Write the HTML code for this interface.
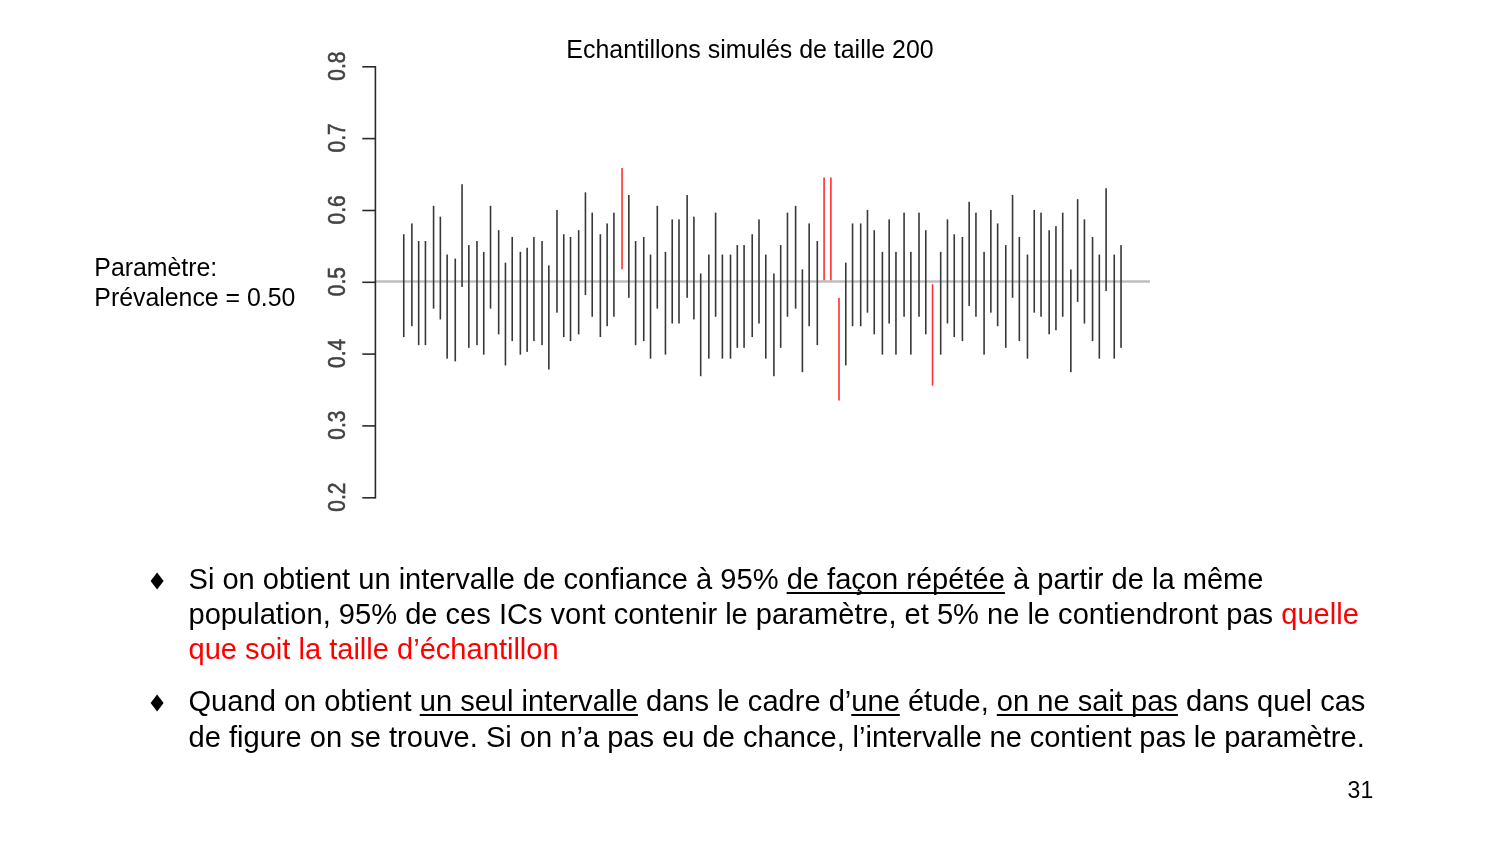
<!DOCTYPE html>
<html lang="fr">
<head>
<meta charset="utf-8">
<title>Echantillons simulés de taille 200</title>
<style>
html,body{margin:0;padding:0;background:#fff;}
body{width:1500px;height:844px;position:relative;overflow:hidden;font-family:"Liberation Sans",sans-serif;color:#000;}
.abs{position:absolute;white-space:nowrap;}
#title{left:566.3px;top:33.5px;font-size:24.94px;line-height:30px;}
#param{left:94.3px;top:251.9px;font-size:24.86px;line-height:30px;}
.bul{position:absolute;left:188.5px;font-size:29.08px;line-height:35px;white-space:nowrap;}
.bul u{text-decoration-thickness:2.2px;text-underline-offset:3px;text-decoration-skip-ink:none;}
.dia{position:absolute;left:150px;font-size:20px;}
.red{color:#f00;}
#pn{left:1347.6px;top:778px;font-size:23px;line-height:24px;}
svg{position:absolute;left:0;top:0;}
</style>
</head>
<body>
<svg width="1500" height="844" viewBox="0 0 1500 844">
<line x1="375.5" y1="281.5" x2="1150" y2="281.5" stroke="#bebebe" stroke-width="2.5"/>
<g fill="#383838">
<rect x="402.95" y="234.26" width="1.6" height="102.77"/>
<rect x="411.08" y="223.44" width="1.6" height="102.77"/>
<rect x="417.86" y="241.02" width="1.6" height="104.12"/>
<rect x="424.64" y="241.02" width="1.6" height="104.12"/>
<rect x="432.78" y="205.86" width="1.6" height="102.77"/>
<rect x="439.56" y="216.68" width="1.6" height="102.77"/>
<rect x="446.34" y="254.54" width="1.6" height="104.12"/>
<rect x="454.47" y="258.60" width="1.6" height="102.77"/>
<rect x="461.25" y="184.22" width="1.6" height="102.77"/>
<rect x="468.03" y="245.08" width="1.6" height="102.77"/>
<rect x="476.17" y="241.02" width="1.6" height="104.12"/>
<rect x="482.95" y="251.84" width="1.6" height="102.77"/>
<rect x="489.73" y="205.86" width="1.6" height="102.77"/>
<rect x="497.86" y="230.20" width="1.6" height="104.12"/>
<rect x="504.64" y="262.65" width="1.6" height="102.77"/>
<rect x="511.42" y="236.96" width="1.6" height="104.12"/>
<rect x="519.56" y="251.84" width="1.6" height="102.77"/>
<rect x="526.34" y="247.78" width="1.6" height="104.12"/>
<rect x="533.12" y="236.96" width="1.6" height="104.12"/>
<rect x="541.25" y="241.02" width="1.6" height="104.12"/>
<rect x="548.03" y="265.36" width="1.6" height="104.12"/>
<rect x="556.17" y="209.92" width="1.6" height="102.77"/>
<rect x="562.95" y="234.26" width="1.6" height="102.77"/>
<rect x="569.73" y="236.96" width="1.6" height="104.12"/>
<rect x="577.86" y="230.20" width="1.6" height="104.12"/>
<rect x="584.64" y="192.34" width="1.6" height="102.77"/>
<rect x="591.42" y="212.62" width="1.6" height="104.12"/>
<rect x="599.56" y="234.26" width="1.6" height="102.77"/>
<rect x="606.34" y="223.44" width="1.6" height="102.77"/>
<rect x="613.12" y="212.62" width="1.6" height="104.12"/>
<rect x="621.25" y="168.00" width="1.6" height="101.42" fill="#ff3030"/>
<rect x="628.03" y="195.04" width="1.6" height="102.77"/>
<rect x="634.81" y="241.02" width="1.6" height="104.12"/>
<rect x="642.95" y="236.96" width="1.6" height="104.12"/>
<rect x="649.73" y="254.54" width="1.6" height="104.12"/>
<rect x="656.50" y="205.86" width="1.6" height="102.77"/>
<rect x="664.64" y="251.84" width="1.6" height="102.77"/>
<rect x="671.42" y="219.38" width="1.6" height="104.12"/>
<rect x="678.20" y="219.38" width="1.6" height="104.12"/>
<rect x="686.33" y="195.04" width="1.6" height="102.77"/>
<rect x="693.11" y="216.68" width="1.6" height="102.77"/>
<rect x="699.89" y="273.47" width="1.6" height="102.77"/>
<rect x="708.03" y="254.54" width="1.6" height="104.12"/>
<rect x="714.81" y="212.62" width="1.6" height="104.12"/>
<rect x="721.59" y="254.54" width="1.6" height="104.12"/>
<rect x="729.72" y="254.54" width="1.6" height="104.12"/>
<rect x="736.50" y="245.08" width="1.6" height="102.77"/>
<rect x="743.28" y="245.08" width="1.6" height="102.77"/>
<rect x="751.42" y="234.26" width="1.6" height="102.77"/>
<rect x="758.20" y="219.38" width="1.6" height="104.12"/>
<rect x="764.98" y="254.54" width="1.6" height="104.12"/>
<rect x="773.11" y="273.47" width="1.6" height="102.77"/>
<rect x="779.89" y="245.08" width="1.6" height="102.77"/>
<rect x="786.67" y="212.62" width="1.6" height="104.12"/>
<rect x="794.81" y="205.86" width="1.6" height="102.77"/>
<rect x="801.59" y="269.42" width="1.6" height="102.77"/>
<rect x="808.37" y="223.44" width="1.6" height="102.77"/>
<rect x="816.50" y="241.02" width="1.6" height="104.12"/>
<rect x="823.28" y="177.46" width="1.6" height="102.77" fill="#ff3030"/>
<rect x="830.06" y="177.46" width="1.6" height="102.77" fill="#ff3030"/>
<rect x="838.20" y="297.81" width="1.6" height="102.77" fill="#ff3030"/>
<rect x="844.98" y="262.65" width="1.6" height="102.77"/>
<rect x="851.76" y="223.44" width="1.6" height="102.77"/>
<rect x="859.89" y="223.44" width="1.6" height="102.77"/>
<rect x="866.67" y="209.92" width="1.6" height="102.77"/>
<rect x="873.45" y="230.20" width="1.6" height="104.12"/>
<rect x="881.59" y="251.84" width="1.6" height="102.77"/>
<rect x="888.37" y="219.38" width="1.6" height="104.12"/>
<rect x="895.15" y="251.84" width="1.6" height="102.77"/>
<rect x="903.28" y="212.62" width="1.6" height="104.12"/>
<rect x="910.06" y="251.84" width="1.6" height="102.77"/>
<rect x="918.20" y="212.62" width="1.6" height="104.12"/>
<rect x="924.98" y="230.20" width="1.6" height="104.12"/>
<rect x="931.75" y="284.29" width="1.6" height="101.42" fill="#ff3030"/>
<rect x="939.89" y="251.84" width="1.6" height="102.77"/>
<rect x="946.67" y="219.38" width="1.6" height="104.12"/>
<rect x="953.45" y="234.26" width="1.6" height="102.77"/>
<rect x="961.59" y="236.96" width="1.6" height="104.12"/>
<rect x="968.36" y="201.80" width="1.6" height="104.12"/>
<rect x="975.14" y="212.62" width="1.6" height="104.12"/>
<rect x="983.28" y="251.84" width="1.6" height="102.77"/>
<rect x="990.06" y="209.92" width="1.6" height="102.77"/>
<rect x="996.84" y="223.44" width="1.6" height="102.77"/>
<rect x="1004.97" y="245.08" width="1.6" height="102.77"/>
<rect x="1011.75" y="195.04" width="1.6" height="102.77"/>
<rect x="1018.53" y="236.96" width="1.6" height="104.12"/>
<rect x="1026.67" y="254.54" width="1.6" height="104.12"/>
<rect x="1033.45" y="209.92" width="1.6" height="102.77"/>
<rect x="1040.23" y="212.62" width="1.6" height="104.12"/>
<rect x="1048.36" y="230.20" width="1.6" height="104.12"/>
<rect x="1055.14" y="226.14" width="1.6" height="104.12"/>
<rect x="1061.92" y="212.62" width="1.6" height="104.12"/>
<rect x="1070.06" y="269.42" width="1.6" height="102.77"/>
<rect x="1076.84" y="199.10" width="1.6" height="102.77"/>
<rect x="1083.62" y="219.38" width="1.6" height="104.12"/>
<rect x="1091.75" y="236.96" width="1.6" height="104.12"/>
<rect x="1098.53" y="254.54" width="1.6" height="104.12"/>
<rect x="1105.31" y="188.28" width="1.6" height="102.77"/>
<rect x="1113.45" y="254.54" width="1.6" height="104.12"/>
<rect x="1120.23" y="245.08" width="1.6" height="102.77"/>
</g>
<g stroke="#2a2a2a" stroke-width="1.6" fill="none">
<line x1="375.4" y1="66.0" x2="375.4" y2="498.6"/>
<line x1="362.3" y1="66.8" x2="375.4" y2="66.8"/><line x1="362.3" y1="138.6" x2="375.4" y2="138.6"/><line x1="362.3" y1="210.5" x2="375.4" y2="210.5"/><line x1="362.3" y1="282.3" x2="375.4" y2="282.3"/><line x1="362.3" y1="354.1" x2="375.4" y2="354.1"/><line x1="362.3" y1="425.9" x2="375.4" y2="425.9"/><line x1="362.3" y1="497.8" x2="375.4" y2="497.8"/>
</g>
<g font-family="Liberation Sans, sans-serif" font-size="21" fill="#424242" stroke="#424242" stroke-width="0.5">
<text transform="translate(345.3,66.1) rotate(-90) scale(1,1.12)" text-anchor="middle">0.8</text><text transform="translate(345.3,137.9) rotate(-90) scale(1,1.12)" text-anchor="middle">0.7</text><text transform="translate(345.3,209.8) rotate(-90) scale(1,1.12)" text-anchor="middle">0.6</text><text transform="translate(345.3,281.6) rotate(-90) scale(1,1.12)" text-anchor="middle">0.5</text><text transform="translate(345.3,353.4) rotate(-90) scale(1,1.12)" text-anchor="middle">0.4</text><text transform="translate(345.3,425.2) rotate(-90) scale(1,1.12)" text-anchor="middle">0.3</text><text transform="translate(345.3,497.1) rotate(-90) scale(1,1.12)" text-anchor="middle">0.2</text>
</g>
<polygon points="157.1,572.4 163.6,580.9 157.1,589.4 150.6,580.9" fill="#000"/>
<polygon points="157.1,694.4 163.6,702.9 157.1,711.4 150.6,702.9" fill="#000"/>
</svg>
<div id="title" class="abs">Echantillons simulés de taille 200</div>
<div id="param" class="abs">Paramètre:<br>Prévalence = 0.50</div>
<div class="bul" style="top:561.5px;"><span id="b1l1">Si on obtient un intervalle de confiance à 95% <u>de façon répétée</u> à partir de la même</span><br><span id="b1l2">population, 95% de ces ICs vont contenir le paramètre, et 5% ne le contiendront pas <span class="red">quelle</span></span><br><span id="b1l3" class="red">que soit la taille d’échantillon</span></div>
<div class="bul" style="top:683.5px;"><span id="b2l1">Quand on obtient <u>un seul intervalle</u> dans le cadre d’<u>une</u> étude, <u>on ne sait pas</u> dans quel cas</span><br><span id="b2l2" style="position:relative;top:1px;">de figure on se trouve. Si on n’a pas eu de chance,<span style="word-spacing:-0.35px;"> l’intervalle ne contient pas le paramètre.</span></span></div>
<div id="pn" class="abs">31</div>
</body>
</html>
